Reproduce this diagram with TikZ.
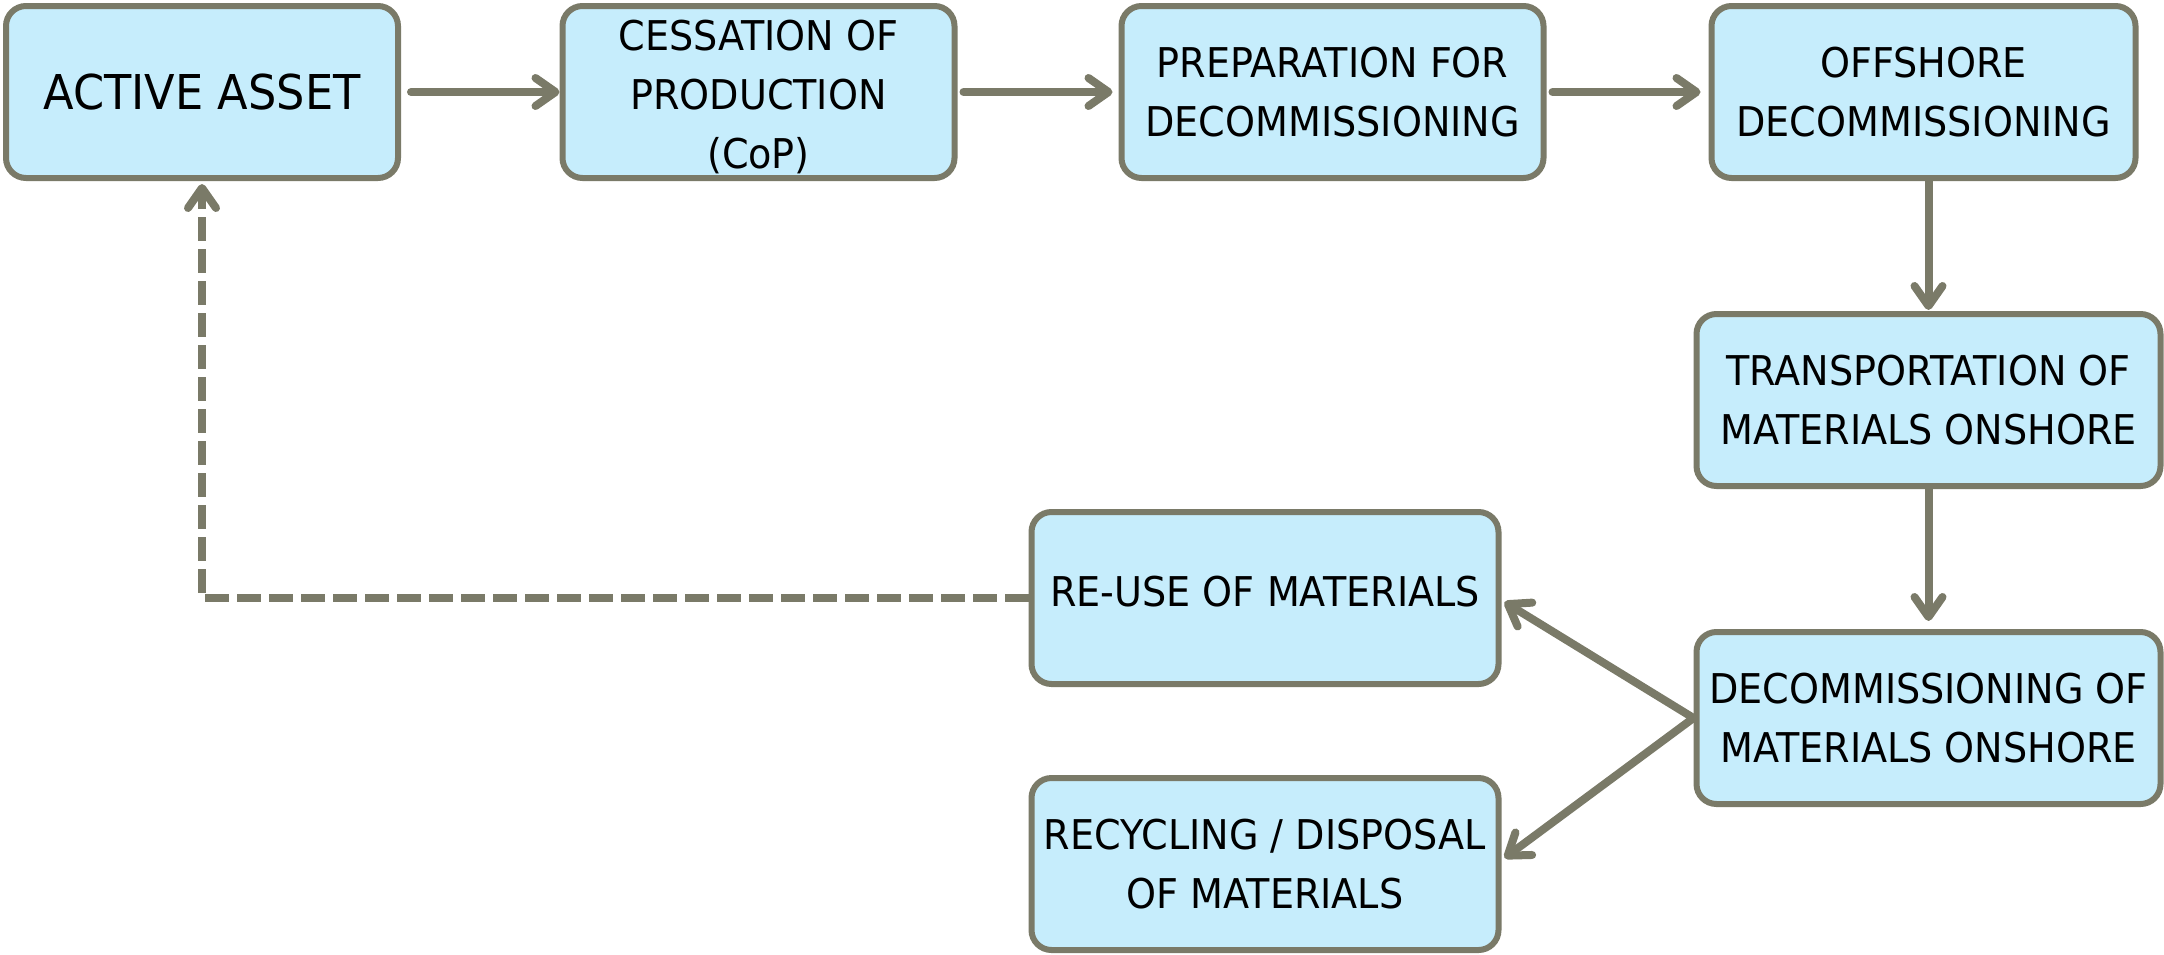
\documentclass[tikz,border=0pt]{standalone}
\usepackage{fontspec}
\setmainfont{DejaVu Sans}[FakeStretch=0.93]
\usetikzlibrary{arrows.meta,calc}
\definecolor{boxfill}{RGB}{198,237,252}
\definecolor{boxline}{RGB}{122,122,104}
\tikzset{
  stage/.style={draw=boxline, fill=boxfill, line width=6pt, rounded corners=20pt,
    minimum height=172pt, inner sep=0pt, align=center,
    font=\fontsize{41}{59}\selectfont},
  flow/.style={draw=boxline, line width=8pt, line cap=round,
    -{Straight Barb[length=20pt,width=28pt,line cap=round,line join=round]}},
  back/.style={flow, dash pattern=on 24pt off 8pt, line cap=butt}
}
\begin{document}
\begin{tikzpicture}[x=1pt,y=-1pt]
\useasboundingbox (0,0) rectangle (2164,954);
\node[stage, minimum width=392pt, font=\fontsize{48}{58}\selectfont] (b1) at (202,92) {ACTIVE ASSET};
\node[stage, minimum width=392pt] (b2) at (758.5,92) {\rule{0pt}{40pt}CESSATION OF\\PRODUCTION\\(CoP)};
\node[stage, minimum width=422pt] (b3) at (1332.5,92) {PREPARATION FOR\\DECOMMISSIONING};
\node[stage, minimum width=424pt] (b4) at (1923.5,92) {OFFSHORE\\DECOMMISSIONING};
\node[stage, minimum width=464pt] (b5) at (1928.5,400) {TRANSPORTATION OF\\MATERIALS ONSHORE};
\node[stage, minimum width=464pt] (b6) at (1928.5,718) {DECOMMISSIONING OF\\MATERIALS ONSHORE};
\node[stage, minimum width=467pt] (b7) at (1265,598) {RE-USE OF MATERIALS\rule[-14pt]{0pt}{14pt}};
\node[stage, minimum width=467pt] (b8) at (1265,864) {RECYCLING / DISPOSAL\\OF MATERIALS};

\draw[flow, shorten <=10pt] (b1.east) -- (b2.west);
\draw[flow, shorten <=6pt, shorten >=6pt] (b2.east) -- (b3.west);
\draw[flow, shorten <=6pt, shorten >=8pt] (b3.east) -- (b4.west);
\draw[flow, shorten >=1pt] (b4.south -| b5.north) -- (b5.north);
\draw[flow, shorten >=8pt] (b5.south) -- (b6.north);
\draw[flow] (b6.west) -- ($(b7.east)+(3,4)$);
\draw[flow] (b6.west) -- ($(b8.east)+(3,-6)$);
\draw[back, shorten >=3pt] (b7.west) -- (b7.west -| b1.south) -- (b1.south);
\end{tikzpicture}
\end{document}
